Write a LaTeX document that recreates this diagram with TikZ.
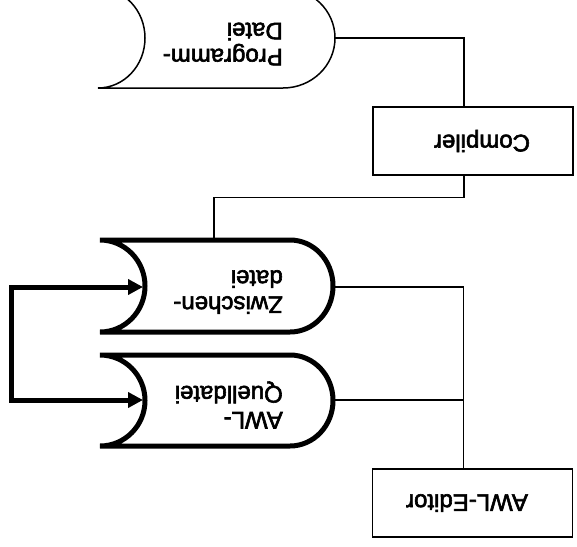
\documentclass[tikz,border=0pt]{standalone}
\usepackage{fontspec}
\setmainfont{Liberation Sans}
\newfontfamily\lblfont{Liberation Sans}[FakeBold=2.5]
\usepackage{graphicx}
\usetikzlibrary{arrows.meta}
\begin{document}
\begin{tikzpicture}[x=1pt,y=-1pt,
  conn/.style={line width=1.1pt},
  box/.style={draw, line width=1.4pt, minimum width=200pt, minimum height=68pt,
    inner sep=0pt, font=\lblfont\fontsize{24}{26}\selectfont},
  filethin/.style={line width=1.5pt},
  filethick/.style={line width=5pt},
  lbl/.style={rotate=180, align=left, anchor=west, inner sep=0pt,
    font=\lblfont\fontsize{24}{26}\selectfont},
  loopline/.style={line width=5pt,
    {Triangle[length=15pt,width=15pt]}-{Triangle[length=15pt,width=15pt]}}
]
\clip (0,0) rectangle (577,546);

% stored program file (thin outline)
\draw[filethin] (98,-12) -- (283,-12)
  arc[start angle=90,end angle=-90,x radius=52pt,y radius=50pt] -- (98,88)
  arc[start angle=-90,end angle=90,x radius=47pt,y radius=50pt] -- cycle;
\coordinate (pd-out) at (335,38);
\node[lbl] (pdt) at (283,44) {Programm-\\Datei};

% intermediate file (thick outline)
\draw[filethick] (100,240) -- (290,240)
  arc[start angle=90,end angle=-90,x radius=43pt,y radius=46pt] -- (100,332)
  arc[start angle=-90,end angle=90,x radius=45pt,y radius=46pt] -- cycle;
\coordinate (zw-in) at (143,287);
\coordinate (zw-out) at (333,287);
\coordinate (zw-top) at (214,240);
\node[lbl] (zwt) at (283,292) {Zwischen-\\datei};

% source file (thick outline)
\draw[filethick] (100,355) -- (290,355)
  arc[start angle=90,end angle=-90,x radius=43pt,y radius=45.5pt] -- (100,446)
  arc[start angle=-90,end angle=90,x radius=45pt,y radius=45.5pt] -- cycle;
\coordinate (qu-in) at (143,400);
\coordinate (qu-out) at (333,400);
\node[lbl] (qut) at (283,405) {AWL-\\Quelldatei};

% tool boxes
\node[box] (comp) at (473,141) {\rotatebox{180}{Compiler\hspace{18pt}}};
\node[box] (edit) at (472.5,503) {\rotatebox{180}{\hspace{11pt}AWL-Editor}};

% connectors
\draw[conn] (pd-out) -| ([xshift=-9pt]comp.north);
\draw[conn] ([xshift=-9pt]comp.south) -- ++(0,22) -| (zw-top);
\draw[conn] (zw-out) -| ([xshift=-9pt]edit.north);
\draw[conn] (qu-out) -- ([xshift=-9pt]edit.north |- qu-out);

% conversion loop between the two files
\draw[loopline] (zw-in) -- (11,287) -- (11,400) -- (qu-in);
\end{tikzpicture}
\end{document}
